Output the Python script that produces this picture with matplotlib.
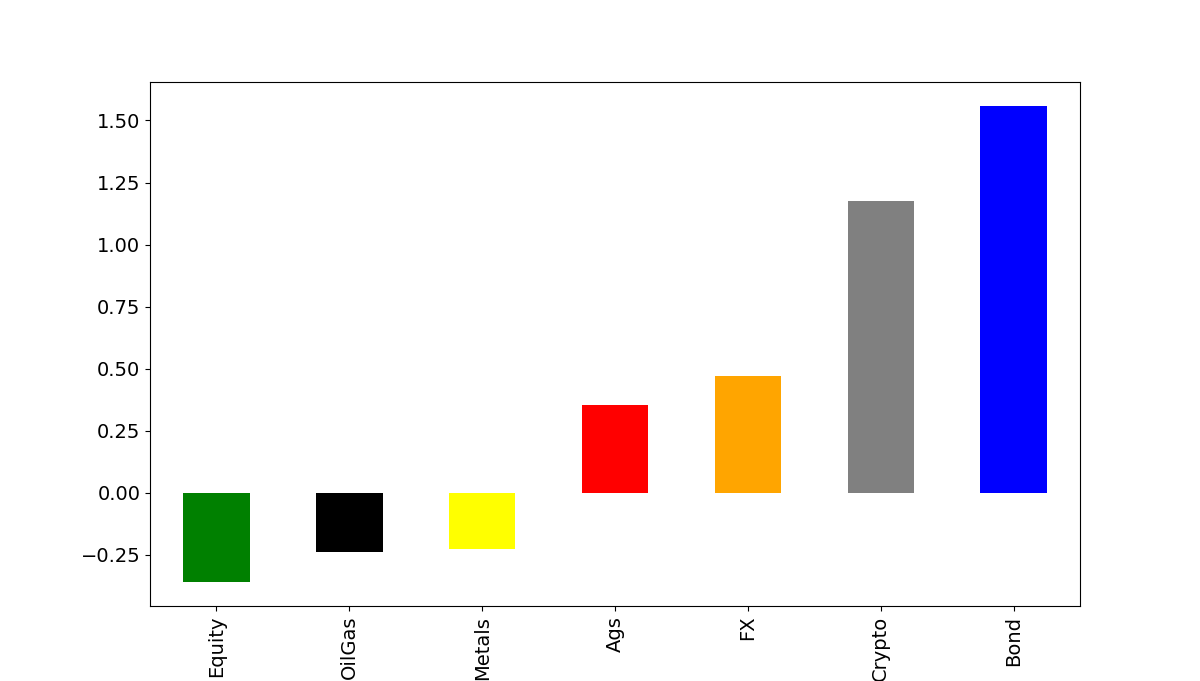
import numpy as np
import pandas as pd
import matplotlib
matplotlib.use("Agg")
import matplotlib.pyplot as plt

# mean values per asset class
categories = ["Equity", "OilGas", "Metals", "Ags", "FX", "Crypto", "Bond"]
values = [-0.36, -0.238, -0.226, 0.355, 0.472, 1.177, 1.56]
colors = ["green", "black", "yellow", "red", "orange", "gray", "blue"]

s = pd.Series(values, index=categories)

fig, ax = plt.subplots(figsize=(12, 6.81), dpi=100)
s.plot.bar(ax=ax, color=colors, fontsize=14)

fig.savefig("out.png", dpi=100)
